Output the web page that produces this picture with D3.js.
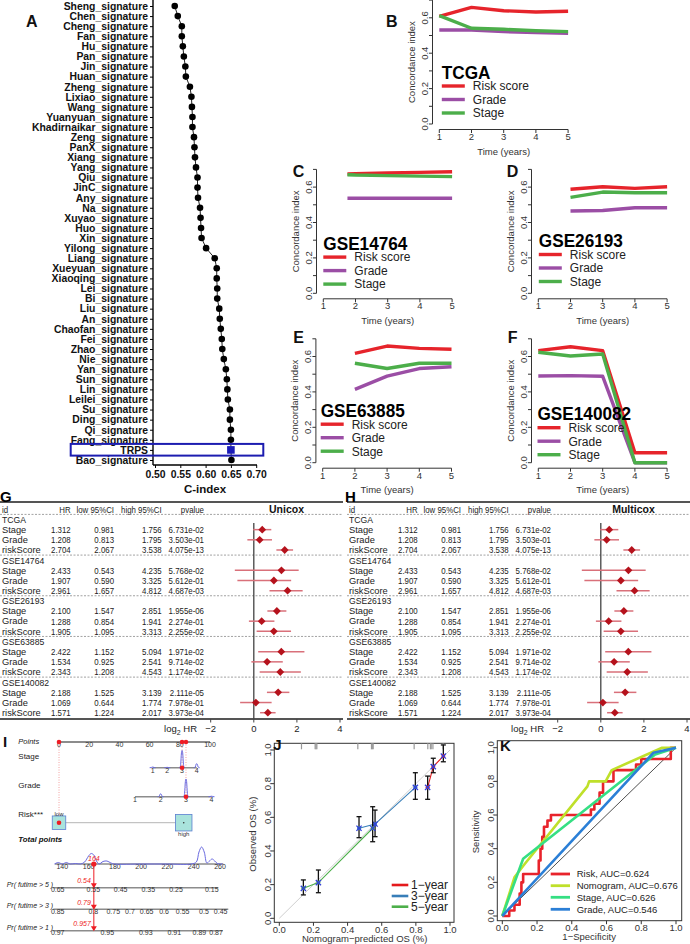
<!DOCTYPE html>
<html><head><meta charset="utf-8">
<script src="https://cdn.jsdelivr.net/npm/d3@7"></script>
<style>body{margin:0;background:#fff}svg{display:block}text{font-family:"Liberation Sans",Arial,Helvetica,sans-serif}</style>
</head><body><svg id="c" width="690" height="944"></svg>
<script>
// ===================== DATA =====================
// Panel A
const sigNames = ["Sheng_signature","Chen_signature","Cheng_signature","Fan_signature","Hu_signature","Pan_signature","Jin_signature","Huan_signature","Zheng_signature","Lixiao_signature","Wang_signature","Yuanyuan_signature","Khadirnaikar_signature","Zeng_signature","PanX_signature","Xiang_signature","Yang_signature","Qiu_signature","JinC_signature","Any_signature","Na_signature","Xuyao_signature","Huo_signature","Xin_signature","Yilong_signature","Liang_signature","Xueyuan_signature","Xiaoqing_signature","Lei_signature","Bi_signature","Liu_signature","An_signature","Chaofan_signature","Fei_signature","Zhao_signature","Nie_signature","Yan_signature","Sun_signature","Lin_signature","Leilei_signature","Su_signature","Ding_signature","Qi_signature","Fang_signature","TRPS","Bao_signature"];
const sigCindex = [0.539,0.545,0.553,0.553,0.555,0.557,0.560,0.561,0.569,0.572,0.573,0.574,0.574,0.577,0.578,0.579,0.581,0.584,0.584,0.585,0.589,0.590,0.591,0.592,0.601,0.618,0.622,0.622,0.623,0.623,0.627,0.628,0.630,0.632,0.633,0.636,0.640,0.642,0.643,0.644,0.648,0.648,0.650,0.650,0.650,0.651];
const cindexTicks = [0.50,0.55,0.60,0.65,0.70];

// Panels B-F (time-dependent C-index)
const timeB = [1,2,3,4,5];
const riskB = [0.608,0.659,0.640,0.633,0.637];
const gradeB = [0.531,0.531,0.522,0.516,0.512];
const stageB = [0.612,0.541,0.535,0.527,0.522];
const timeC = [1.75,2,3,4,5];
const riskC = [0.674,0.676,0.680,0.683,0.687];
const gradeC = [0.537,0.537,0.537,0.537,0.537];
const stageC = [0.670,0.668,0.665,0.662,0.659];
const timeD = [2,3,4,5];
const riskD = [0.588,0.602,0.593,0.602];
const gradeD = [0.465,0.468,0.483,0.483];
const stageD = [0.542,0.572,0.568,0.568];
const timeE = [2,3,4,5];
const riskE = [0.618,0.659,0.646,0.641];
const gradeE = [0.414,0.489,0.532,0.542];
const stageE = [0.562,0.532,0.562,0.562];
const timeF = [1,2,3,4,5];
const riskF = [0.633,0.655,0.633,0.056,0.056];
const gradeF = [0.490,0.492,0.488,0,0];
const stageF = [0.624,0.603,0.614,0,0];
const yearTicks = [1,2,3,4,5];
const cTicks = [0,0.1,0.2,0.3,0.4,0.5,0.6,0.7];
const cLabels = [0,0.2,0.4,0.6];
const legendNames = ["Risk score","Grade","Stage"];

// Panels G/H (forest)
const cohorts = ["TCGA","GSE14764","GSE26193","GSE63885","GSE140082"];
const factors = ["Stage","Grade","riskScore"];
const hrVals = [[1.312,1.208,2.704],[2.433,1.907,2.961],[2.100,1.288,1.905],[2.422,1.534,2.343],[2.188,1.069,1.571]];
const hrLow = [[0.981,0.813,2.067],[0.543,0.590,1.657],[1.547,0.854,1.095],[1.152,0.925,1.208],[1.525,0.644,1.224]];
const hrHigh = [[1.756,1.795,3.538],[4.235,3.325,4.812],[2.851,1.941,3.313],[5.094,2.541,4.543],[3.139,1.774,2.017]];
const pVals = [[6.731e-02,3.503e-01,4.075e-13],[5.768e-02,5.612e-01,4.687e-03],[1.955e-06,2.274e-01,2.255e-02],[1.971e-02,9.714e-02,1.174e-02],[2.111e-05,7.978e-01,3.973e-04]];
const forestTicks = [-2,0,2,4];

// Panel I (nomogram)
const pointTicks = [0,20,40,60,80,100];
const stageLevels = ["1","2","3","4"];
const stagePts = [62,71.7,81.5,91.2];
const stageDens = [0.04,0.02,1,0.23];
const gradeLevels = ["1","2","3","4"];
const gradePts = [50.3,67.3,84.1,101];
const gradeDens = [0,0.16,1,0.03];
const riskLevels = ["low","high"];
const riskPts = [0,82.6];
const riskBox = [13.5,16.5];
const totalTicks = [140,160,180,200,220,240,260];
const totalDensX = [134,137,140,143,146,150,154,157,160,162,164,166,168,171,174,177,180,200,220,238,242,244,246,248,250,252,254,256,258,262];
const totalDensY = [0,1.5,0,1.5,0,0.5,0,2,8,10.5,9,3,0,2.5,3,1,0,0,0,0,2,12,17,12,1,3,5,3,0.5,0];
const pr5Labels = ["0.65","0.55","0.45","0.35","0.25","0.15"];
const pr5Tot = [136.5,163.6,184.4,205.4,226.5,253.7];
const pr3Labels = ["0.85","0.8","0.75","0.7","0.65","0.6","0.55","0.5","0.45"];
const pr3Tot = [136.5,163.6,178.8,191.5,204.2,217.4,231.6,247.8,260.5];
const pr1Labels = ["0.97","0.95","0.93","0.91","0.89","0.87"];
const pr1Tot = [136.5,174.2,203.5,225.2,244.3,257];
const patientTotal = 164;
const patientProb = ["0.54","0.79","0.957"];

// Panel J (calibration)
const cal1Pred = [0.869,0.902,0.961], cal1Obs = [0.778,0.901,0.964], cal1Lo = [0.707,0.865,0.930], cal1Hi = [0.845,0.951,1.03];
const cal3Pred = [0.467,0.561,0.797], cal3Obs = [0.535,0.560,0.778], cal3Lo = [0.479,0.485,0.707], cal3Hi = [0.604,0.643,0.865];
const cal5Pred = [0.141,0.229,0.547], cal5Obs = [0.178,0.212,0.535], cal5Lo = [0.139,0.152,0.455], cal5Hi = [0.228,0.287,0.663];
const calRug = [0.13,0.21,0.215,0.22,0.46,0.54,0.545,0.55,0.79,0.87,0.885,0.89,0.9,0.96];
const calNames = ["1\u2212year","3\u2212year","5\u2212year"];
const unitTicks = [0,0.2,0.4,0.6,0.8,1.0];

// Panel K (ROC)
const rocRiskFpr = [0,0.04,0.04,0.07,0.07,0.1,0.1,0.11,0.11,0.12,0.12,0.21,0.21,0.22,0.22,0.23,0.23,0.24,0.24,0.26,0.26,0.28,0.28,0.51,0.51,0.53,0.53,0.56,0.56,0.58,0.58,0.64,0.64,0.77,0.77,0.8,0.8,0.97,0.97,1];
const rocRiskTpr = [0,0,0.033,0.033,0.067,0.067,0.133,0.133,0.2,0.2,0.25,0.25,0.33,0.33,0.4,0.4,0.47,0.47,0.53,0.53,0.567,0.567,0.6,0.6,0.633,0.633,0.667,0.667,0.733,0.733,0.8,0.8,0.867,0.867,0.9,0.9,0.933,0.933,1,1];
const rocNomoFpr = [0,0.07,0.13,0.49,0.50,0.595,0.63,0.92,1];
const rocNomoTpr = [0,0.23,0.31,0.77,0.80,0.80,0.867,1,1];
const rocStageFpr = [0,0.12,0.88,1];
const rocStageTpr = [0,0.34,0.96,1];
const rocGradeFpr = [0,0.79,0.87,1];
const rocGradeTpr = [0,0.88,0.97,1];
const rocNames = ["Risk, AUC=0.624","Nomogram, AUC=0.676","Stage, AUC=0.626","Grade, AUC=0.546"];

// ===================== DRAWING =====================
const svg = d3.select("#c");
function txt(g,x,y,s,o={}){
  const t=g.append("text").attr("x",x).attr("y",y).text(s)
    .attr("font-size",o.size||9.5).attr("fill",o.fill||"#111")
    .attr("text-anchor",o.anchor||"start");
  if(o.weight)t.attr("font-weight",o.weight);
  if(o.style)t.attr("font-style",o.style);
  if(o.rotate)t.attr("transform",`rotate(${o.rotate},${x},${y})`);
  if(o.dy)t.attr("dy",o.dy);
  return t;
}
// horizontally condensed text
function ctxt(g,x,y,s,o={}){
  const t=g.append("text").attr("transform",`translate(${x},${y}) scale(${o.sx||0.82},1)`).text(s)
    .attr("font-size",o.size||9.5).attr("fill",o.fill||"#222").attr("text-anchor",o.anchor||"start");
  if(o.dy)t.attr("dy",o.dy);
  if(o.weight)t.attr("font-weight",o.weight);
  return t;
}
function ln(g,x1,y1,x2,y2,c,w,dash){
  const l=g.append("line").attr("x1",x1).attr("y1",y1).attr("x2",x2).attr("y2",y2).attr("stroke",c||"#000").attr("stroke-width",w||1);
  if(dash)l.attr("stroke-dasharray",dash);
  return l;
}

// ---------- Panel A ----------
(function(){
  const g=svg.append("g");
  const y=d3.scalePoint().domain(sigNames).range([6,460]);
  const x=d3.scaleLinear().domain([0.5,0.7]).range([155,256.2]);
  const ya=g.append("g").attr("transform","translate(153,0)").call(d3.axisLeft(y).tickSize(3));
  ya.select(".domain").remove();
  ya.selectAll(".tick line").attr("stroke","#000");
  ya.selectAll("text").attr("font-size",10.4).attr("font-weight","bold").attr("fill","#111").attr("x",-5).attr("font-family",null);
  ln(g,153,0,153,465,"#000",1.4);
  const xa=g.append("g").attr("transform","translate(0,465)").call(d3.axisBottom(x).tickValues(cindexTicks).tickFormat(d3.format(".2f")).tickSize(3));
  xa.select(".domain").remove();
  xa.selectAll("text").attr("font-size",10.4).attr("font-weight","bold").attr("fill","#111").attr("font-family",null);
  ln(g,153,465,257,465,"#000",1.4);
  txt(g,205,493,"C-index",{size:11.5,weight:"bold",anchor:"middle"});
  const pts=sigNames.map((n,i)=>({n,v:sigCindex[i]}));
  g.append("path").datum(pts).attr("fill","none").attr("stroke","#222").attr("stroke-width",1)
    .attr("d",d3.line().x(d=>x(d.v)).y(d=>y(d.n)));
  g.selectAll("circle").data(pts.filter(d=>d.n!=="TRPS")).join("circle")
    .attr("cx",d=>x(d.v)).attr("cy",d=>y(d.n)).attr("r",3.3).attr("fill","#000");
  const tr=pts.find(d=>d.n==="TRPS");
  g.append("rect").attr("x",x(tr.v)-3.8).attr("y",y(tr.n)-3.8).attr("width",7.6).attr("height",7.6).attr("fill","#1a1ab8");
  g.append("rect").attr("x",70.7).attr("y",y("TRPS")-6).attr("width",192.6).attr("height",11.7)
    .attr("fill","none").attr("stroke","#1c1cb0").attr("stroke-width",2);
  txt(g,26,27.3,"A",{size:16,weight:"bold"});
})();

// ---------- Panels B-F ----------
const ciColors=["#e6242b","#9b4ea5","#4cae4a"];
const ciPanels=[
  {letter:"B",lx:386,ly:26.7,name:"TCGA",x1:439.3,y0:124,t:timeB,s:[riskB,gradeB,stageB],ldx:2.5,ldy:0},
  {letter:"C",lx:292.7,ly:176.7,name:"GSE14764",x1:323.3,y0:293.3,t:timeC,s:[riskC,gradeC,stageC],ldx:0,ldy:1.8},
  {letter:"D",lx:506.7,ly:176.7,name:"GSE26193",x1:538.3,y0:293.3,t:timeD,s:[riskD,gradeD,stageD],ldx:0.5,ldy:-0.8},
  {letter:"E",lx:293.3,ly:343.3,name:"GSE63885",x1:322.7,y0:462.7,t:timeE,s:[riskE,gradeE,stageE],ldx:-2,ldy:-0.5},
  {letter:"F",lx:507.7,ly:343.3,name:"GSE140082",x1:538.3,y0:462.7,t:timeF,s:[riskF,gradeF,stageF],ldx:-0.8,ldy:3}
];
ciPanels.forEach(p=>{
  const g=svg.append("g");
  const x=d3.scaleLinear().domain([1,5]).range([p.x1,p.x1+4*32.2]);
  const y=d3.scaleLinear().domain([0,0.7]).range([p.y0,p.y0-0.7*177]);
  const ax=p.x1-6.8;
  ln(g,ax,y(0),ax,y(0.7),"#333",1);
  cTicks.forEach(v=>ln(g,ax,y(v),ax-3.5,y(v),"#333",1));
  cLabels.forEach(v=>txt(g,ax-4.5,y(v),v.toFixed(1),{size:9.5,anchor:"middle",rotate:-90,fill:"#333"}));
  txt(g,ax-17.5,y(0.35),"Concordance index",{size:9.5,anchor:"middle",rotate:-90,fill:"#333"});
  const by=p.y0+5.5;
  ln(g,x(1),by,x(5),by,"#333",1);
  yearTicks.forEach(v=>{ln(g,x(v),by,x(v),by+3.5,"#333",1);txt(g,x(v),p.y0+16,String(v),{size:9.5,anchor:"middle",fill:"#333"});});
  txt(g,x(3),p.y0+30.5,"Time (years)",{size:9.5,anchor:"middle",fill:"#333"});
  const line=d3.line().x(d=>x(d[0])).y(d=>y(d[1]));
  p.s.forEach((arr,i)=>{
    g.append("path").datum(arr.map((v,j)=>[p.t[j],v])).attr("d",line).attr("fill","none")
      .attr("stroke",ciColors[i]).attr("stroke-width",3.4).attr("stroke-linejoin","round");
  });
  // legend
  const lx=p.x1+p.ldx, base=p.y0+p.ldy;
  g.append("text").attr("transform",`translate(${lx},${base-45.5}) scale(1,1.12)`).text(p.name)
    .attr("font-size",17.2).attr("font-weight","bold").attr("fill","#000");
  [-38,-24.5,-11].forEach((dy,i)=>{
    ln(g,lx,base+dy,lx+23,base+dy,ciColors[i],3.4);
    txt(g,lx+31,base+dy,legendNames[i],{size:12,dy:"0.36em",fill:"#222"});
  });
  txt(g,p.lx,p.ly,p.letter,{size:16,weight:"bold"});
});

// ---------- Panels G / H ----------
function fmtP(p){const [m,e]=p.toExponential(3).split("e");const n=+e;return m+"e"+(n<0?"-":"+")+String(Math.abs(n)).padStart(2,"0");}
function forest(dx,title,letter,lx){
  const g=svg.append("g").attr("transform",`translate(${dx},0)`);
  const rowY=i=>509.3+i*10.17;
  const fx=d3.scaleLinear().domain([-2,4]).range([210.7,340]);
  ln(g,0,502,343,502,"#555",1.8);
  ln(g,0,719,343,719,"#555",1.8);
  const hy=rowY(0);
  const o={size:9.3,dy:"0.35em",fill:"#222"};
  const c={size:9.6,dy:"0.35em",fill:"#222",anchor:"end",sx:0.82};
  ctxt(g,2,hy,"id",{...c,anchor:"start"});
  ctxt(g,70.7,hy,"HR",c);
  ctxt(g,114,hy,"low 95%CI",c);
  ctxt(g,161.7,hy,"high 95%CI",c);
  ctxt(g,204,hy,"pvalue",c);
  txt(g,286.5,hy,title,{size:10.5,weight:"bold",anchor:"middle",dy:"0.35em"});
  [0,4,8,12,16].forEach(k=>ln(g,0,rowY(k)+5.1,343,rowY(k)+5.1,"#8a8a8a",0.8,"2,1.5"));
  ln(g,fx(0),523,fx(0),719,"#444",1.3);
  cohorts.forEach((cc,k)=>{
    ctxt(g,2,rowY(1+4*k),cc,{...c,anchor:"start",sx:0.9});
    factors.forEach((f,j)=>{
      const yy=rowY(2+4*k+j);
      txt(g,2,yy,f,o);
      ctxt(g,70.7,yy,hrVals[k][j].toFixed(3),c);
      ctxt(g,114,yy,hrLow[k][j].toFixed(3),c);
      ctxt(g,161.7,yy,hrHigh[k][j].toFixed(3),c);
      ctxt(g,204,yy,fmtP(pVals[k][j]),c);
      ln(g,fx(Math.log2(hrLow[k][j])),yy,fx(Math.log2(hrHigh[k][j])),yy,"#d9707a",1.5);
      const cx=fx(Math.log2(hrVals[k][j])),s=3.9;
      g.append("path").attr("d",`M${cx},${yy-s}L${cx+s},${yy}L${cx},${yy+s}L${cx-s},${yy}Z`).attr("fill","#b5121c");
    });
  });
  forestTicks.forEach(v=>{
    ln(g,fx(v),719,fx(v),722.5,"#444",1);
    txt(g,fx(v),732,v<0?"\u2212"+Math.abs(v):String(v),{size:9.5,anchor:"middle",fill:"#222"});
  });
  const t=g.append("text").attr("x",197).attr("y",732).attr("text-anchor","end").attr("font-size",9.5).attr("fill","#222");
  t.append("tspan").text("log");
  t.append("tspan").text("2").attr("font-size",7).attr("dy",2.5);
  t.append("tspan").text(" HR").attr("dy",-2.5);
  svg.append("text").attr("x",lx).attr("y",501.5).text(letter).attr("font-size",15).attr("font-weight","bold").attr("fill","#000");
}
forest(0,"Unicox","G",0);
forest(347,"Multicox","H",345);

// ---------- Panel I (nomogram) ----------
(function(){
  const g=svg.append("g");
  const px=d3.scaleLinear().domain([0,100]).range([59,210]);
  const tx=d3.scaleLinear().domain([140,260]).range([62.3,220]);
  const axc="#8c8c8c", dens="#6a6ae0", red="#ee1c24";
  const lab={size:7,anchor:"middle",fill:"#333"};
  txt(g,3,746.7,"I",{size:15,weight:"bold"});
  txt(g,18.3,744,"Points",{size:7.5,style:"italic",fill:"#222"});
  ln(g,px(0),742,px(100),742,axc,1.8);
  pointTicks.forEach(v=>txt(g,px(v),747,String(v),lab));
  const sp=stagePts[2], gp=gradePts[2];
  ln(g,px(0),742,px(0),822.7,"#f08a8a",0.8,"1,1.5");
  ln(g,px(sp),742,px(sp),767.7,"#f08a8a",0.8,"1,1.5");
  ln(g,px(gp),742,px(gp),796.7,"#f08a8a",0.8,"1,1.5");
  function catAxis(name,levels,pts,densArr,yy,h){
    txt(g,18.3,yy-8.4,name,{size:8,fill:"#222"});
    ln(g,px(pts[0]),yy,px(pts[pts.length-1]),yy,axc,1.5);
    levels.forEach((l,i)=>txt(g,px(pts[i]),yy+5,l,lab));
    const area=d3.line().curve(d3.curveBasis);
    pts.forEach((p,i)=>{
      const cx=px(p),hh=densArr[i]*h;
      if(hh<=0)return;
      g.append("path").attr("d",area([[cx-3,yy],[cx-1.2,yy],[cx-0.8,yy-hh],[cx+0.8,yy-hh],[cx+1.2,yy],[cx+3,yy]]))
        .attr("fill","none").attr("stroke",dens).attr("stroke-width",1);
    });
  }
  catAxis("Stage",stageLevels,stagePts,stageDens,767.7,18);
  catAxis("Grade",gradeLevels,gradePts,gradeDens,796.7,18.5);
  txt(g,18.3,816.5,"Risk***",{size:8,fill:"#222"});
  ln(g,px(riskPts[0]),822.7,px(riskPts[1]),822.7,"#b5b5b5",1);
  riskPts.forEach((p,i)=>{
    const s=riskBox[i];
    g.append("rect").attr("x",px(p)-s/2).attr("y",822.7-s/2).attr("width",s).attr("height",s)
      .attr("fill","#a9e3dc").attr("stroke","#5b7fd0").attr("stroke-width",0.8);
  });
  txt(g,px(riskPts[0]),815.5,riskLevels[0],{size:6,anchor:"middle",fill:"#333"});
  txt(g,px(riskPts[1]),836,riskLevels[1],{size:6,anchor:"middle",fill:"#333"});
  g.append("circle").attr("cx",px(riskPts[1])).attr("cy",822.7).attr("r",0.8).attr("fill","#333");
  [[px(0),742],[px(sp),742],[px(gp),742],[px(sp),767.7],[px(gp),796.7],[px(0),822.7]].forEach(d=>
    g.append("circle").attr("cx",d[0]).attr("cy",d[1]).attr("r",2.3).attr("fill",red));
  txt(g,18.3,841.5,"Total points",{size:7.8,style:"italic",weight:"bold",fill:"#111"});
  ln(g,tx(134.4),864,tx(262.5),864,axc,1.5);
  totalTicks.forEach(v=>txt(g,tx(v),869.2,String(v),lab));
  g.append("path").datum(totalDensX.map((v,i)=>[tx(v),864-totalDensY[i]]))
    .attr("d",d3.line().curve(d3.curveCatmullRom)).attr("fill","none").attr("stroke",dens).attr("stroke-width",1);
  const prAxes=[
    {lab:"Pr( futime > 5 )",y:887.7,labels:pr5Labels,tot:pr5Tot,end:258.7},
    {lab:"Pr( futime > 3 )",y:909.3,labels:pr3Labels,tot:pr3Tot,end:266.3},
    {lab:"Pr( futime > 1 )",y:930.7,labels:pr1Labels,tot:pr1Tot,end:262}
  ];
  const xp=tx(patientTotal);
  ln(g,xp,864,xp,930.7,red,1);
  g.append("circle").attr("cx",xp).attr("cy",864).attr("r",2.6).attr("fill",red);
  txt(g,xp,861,String(patientTotal),{size:7,style:"italic",anchor:"middle",fill:red});
  prAxes.forEach((a,i)=>{
    txt(g,6.7,a.y-1,a.lab,{size:7,style:"italic",fill:"#222"});
    ln(g,tx(133.1),a.y,tx(a.end),a.y,axc,1.5);
    a.labels.forEach((l,j)=>txt(g,tx(a.tot[j]),a.y+4.3,l,lab));
    g.append("path").attr("d",`M${xp-3},${a.y-4.5}L${xp+3},${a.y-4.5}L${xp},${a.y+0.5}Z`).attr("fill",red);
    txt(g,xp-3,a.y-4.5,patientProb[i],{size:7,style:"italic",anchor:"end",fill:red});
  });
})();

// ---------- R-style framed axes helper ----------
function rFrame(g,x,y,box,opts){
  g.append("rect").attr("x",box[0]).attr("y",box[1]).attr("width",box[2]-box[0]).attr("height",box[3]-box[1])
    .attr("fill","none").attr("stroke","#333").attr("stroke-width",1);
  unitTicks.forEach(v=>{
    ln(g,x(v),box[3],x(v),box[3]+3.5,"#333",1);
    txt(g,x(v),box[3]+10.5,v.toFixed(1),{size:9.5,anchor:"middle",fill:"#333"});
    ln(g,box[0],y(v),box[0]-3.5,y(v),"#333",1);
    txt(g,box[0]-3.4,y(v),v.toFixed(1),{size:9.5,anchor:"middle",rotate:-90,fill:"#333"});
  });
  txt(g,(x(0)+x(1))/2,box[3]+19.2,opts.xt,{size:9.5,anchor:"middle",fill:"#333"});
  txt(g,box[0]-18.6,(y(0)+y(1))/2,opts.yt,{size:9.5,anchor:"middle",rotate:-90,fill:"#333"});
}

// ---------- Panel J ----------
(function(){
  const g=svg.append("g");
  const x=d3.scaleLinear().domain([0,1]).range([279.3,450]);
  const y=d3.scaleLinear().domain([0,1]).range([918.3,750]);
  const box=[274.3,743.3,454,922.3];
  ln(g,x(0),y(0),x(1),y(1),"#cfcfcf",1);
  rFrame(g,x,y,box,{xt:"Nomogram\u2212predicted OS (%)",yt:"Observed OS (%)"});
  calRug.forEach(v=>ln(g,x(v),box[1],x(v),box[1]+6,"#999",1.2));
  const cols=["#e41a1c","#377eb8","#4daf4a"];
  const sets=[[cal1Pred,cal1Obs,cal1Lo,cal1Hi],[cal3Pred,cal3Obs,cal3Lo,cal3Hi],[cal5Pred,cal5Obs,cal5Lo,cal5Hi]];
  sets.forEach((s,i)=>{
    g.append("path").datum(s[0].map((p,j)=>[x(p),y(s[1][j])])).attr("d",d3.line())
      .attr("fill","none").attr("stroke",cols[i]).attr("stroke-width",1.1);
  });
  sets.forEach((s,i)=>{
    s[0].forEach((p,j)=>{
      const cx=x(p);
      ln(g,cx,y(s[2][j]),cx,y(s[3][j]),"#111",1.3);
      ln(g,cx-2.5,y(s[2][j]),cx+2.5,y(s[2][j]),"#111",1.3);
      ln(g,cx-2.5,y(s[3][j]),cx+2.5,y(s[3][j]),"#111",1.3);
      const cy=y(s[1][j]);
      g.append("circle").attr("cx",cx).attr("cy",cy).attr("r",2).attr("fill",cols[i]);
      ln(g,cx-2.6,cy-2.6,cx+2.6,cy+2.6,"#3340d8",1.3);
      ln(g,cx-2.6,cy+2.6,cx+2.6,cy-2.6,"#3340d8",1.3);
    });
  });
  [885,896,906.7].forEach((yy,i)=>{
    ln(g,391.7,yy,408.3,yy,cols[i],2.6);
    txt(g,411,yy,calNames[i],{size:12,dy:"0.35em",fill:"#222"});
  });
  txt(g,273.3,750,"J",{size:15,weight:"bold"});
})();

// ---------- Panel K ----------
(function(){
  const g=svg.append("g");
  const x=d3.scaleLinear().domain([0,1]).range([502.3,676]);
  const y=d3.scaleLinear().domain([0,1]).range([916,747.7]);
  const box=[497.3,740.7,681.7,920.7];
  rFrame(g,x,y,box,{xt:"1\u2212Specificity",yt:"Sensitivity"});
  ln(g,x(0),y(0),x(1),y(1),"#222",0.8);
  const cols=["#e8232b","#bfe02a","#35df83","#2b7fd6"];
  const curves=[[rocRiskFpr,rocRiskTpr],[rocNomoFpr,rocNomoTpr],[rocStageFpr,rocStageTpr],[rocGradeFpr,rocGradeTpr]];
  curves.forEach((c,i)=>{
    g.append("path").datum(c[0].map((f,j)=>[x(f),y(c[1][j])])).attr("d",d3.line())
      .attr("fill","none").attr("stroke",cols[i]).attr("stroke-width",2.6).attr("stroke-linejoin","round");
  });
  [874,885.7,897.3,909.3].forEach((yy,i)=>{
    ln(g,550.7,yy,570,yy,cols[i],2.8);
    txt(g,576.7,yy,rocNames[i],{size:9.5,dy:"0.35em",fill:"#222"});
  });
  txt(g,500,750.7,"K",{size:15,weight:"bold"});
})();
</script></body></html>
